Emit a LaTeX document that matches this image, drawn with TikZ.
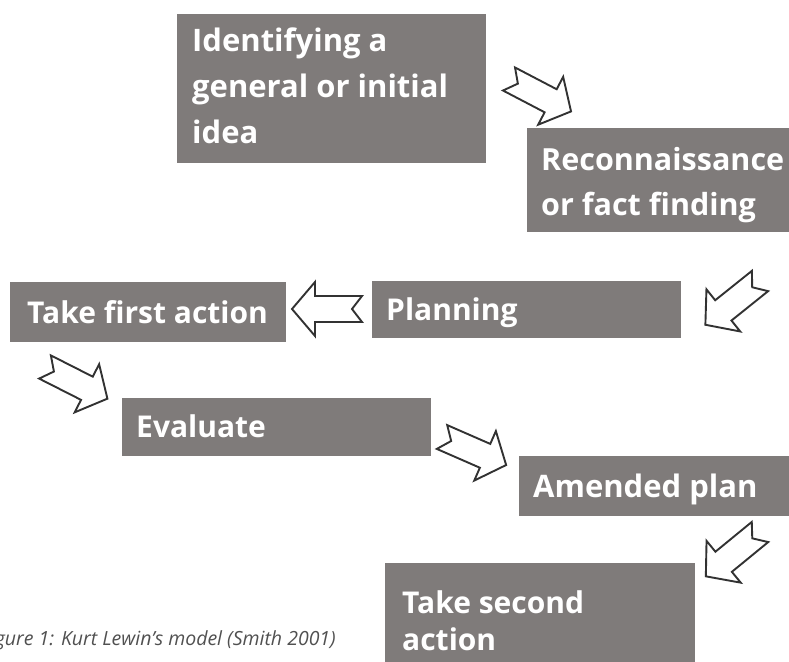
\documentclass[tikz,border=0pt]{standalone}
\usepackage{fontspec}
\setmainfont{Open Sans}
\definecolor{boxgray}{RGB}{127,123,122}
\definecolor{arrowline}{RGB}{50,50,50}
\definecolor{capgray}{RGB}{80,80,80}
\begin{document}
\begin{tikzpicture}[x=1pt,y=-1pt,
  box/.style={fill=boxgray,draw=none,anchor=north west,inner sep=0pt},
  boxtext/.style={text=white,font=\bfseries\fontsize{30}{38}\selectfont,anchor=base west,inner sep=0pt,align=left},
  bigtext/.style={boxtext,font=\bfseries\fontsize{31}{46}\selectfont},
  twotext/.style={boxtext,font=\bfseries\fontsize{30.5}{45}\selectfont},
  widetext/.style={boxtext,font=\bfseries\fontsize{31}{38}\selectfont},
  lowtext/.style={boxtext,font=\bfseries\fontsize{30}{37}\selectfont},
  pics/blockarrow/.style={code={
    \draw[draw=arrowline,fill=white,line width=1.9pt,line join=miter]
      (0,13) -- (47,13) -- (47,27) -- (70,0) -- (47,-27) -- (47,-13) -- (0,-13) -- (10,0) -- cycle;}}]
\useasboundingbox (0,0) rectangle (789,661);
\clip (0,0) rectangle (789,661);
% boxes
\node[box,minimum width=309pt,minimum height=149pt] (b1) at (177,14) {};
\node[box,minimum width=270pt,minimum height=104pt] (b2) at (527,128) {};
\node[box,minimum width=309pt,minimum height=57pt] (b3) at (372,281) {};
\node[box,minimum width=276pt,minimum height=60pt] (b4) at (10,282) {};
\node[box,minimum width=309pt,minimum height=58pt] (b5) at (122,398) {};
\node[box,minimum width=278pt,minimum height=60pt] (b6) at (519,456) {};
\node[box,minimum width=310pt,minimum height=110pt] (b7) at (385,563) {};
% texts (base anchor = last line baseline)
\node[bigtext] (t1) at (192,143) {Identifying a\\general or initial\\idea};
\node[twotext] (t2) at (541,215) {Reconnaissance\\or fact finding};
\node[boxtext] (t3) at (386,320) {Planning};
\node[boxtext] (t4) at (27,323) {Take first action};
\node[boxtext] (t5) at (136,437) {Evaluate};
\node[widetext] (t6) at (533,497) {Amended plan};
\node[lowtext] (t7) at (402,650) {Take second\\action};
% block arrows
\coordinate (a1) at (509,79);
\coordinate (a2) at (760,281);
\coordinate (a3) at (362,309);
\coordinate (a4) at (45,367);
\coordinate (a5) at (442,437);
\coordinate (a6) at (760,532);
\pic[rotate=-27.6] at (a1) {blockarrow};
\pic[rotate=218.7] at (a2) {blockarrow};
\pic[rotate=180] at (a3) {blockarrow};
\pic[rotate=-26.9] at (a4) {blockarrow};
\pic[rotate=-23.6] at (a5) {blockarrow};
\pic[rotate=219.3] at (a6) {blockarrow};
% caption
\node[anchor=base east,inner sep=0pt,text=capgray,font=\itshape\fontsize{19.5}{22}\selectfont] (cap) at (336,645) {Figure 1: Kurt Lewin’s model (Smith 2001)};
\end{tikzpicture}
\end{document}
